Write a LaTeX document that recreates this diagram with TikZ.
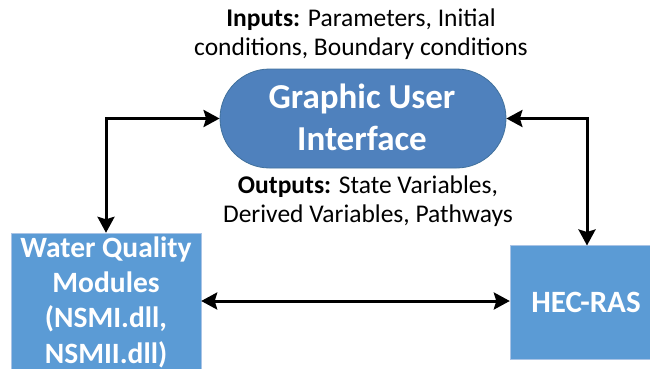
\documentclass[tikz,border=0pt]{standalone}
\usepackage{fontspec}
\setmainfont{Carlito}
\usetikzlibrary{arrows.meta,shapes.misc}
\definecolor{guiblue}{HTML}{4F81BD}
\definecolor{guiedge}{HTML}{41719C}
\definecolor{boxblue}{HTML}{5B9BD5}
\definecolor{boxedge}{HTML}{A9C4E6}
\tikzset{
  tip/.tip={Stealth[length=16pt,width=17pt,inset=2.5pt]},
  conn/.style={line width=3pt,tip-tip},
  lbl/.style={align=center,inner sep=0pt,font=\fontsize{25.5}{29}\selectfont}
}
\begin{document}
\begin{tikzpicture}[x=1pt,y=-1pt]
\useasboundingbox (0,0) rectangle (650,369);
% GUI
\node[rounded rectangle,minimum width=286pt,minimum height=99pt,fill=guiblue,draw=guiedge,line width=0.8pt,inner sep=0pt] (gui) at (363,118.5) {};
\node[text=white,font=\bfseries\fontsize{35}{42}\selectfont,align=center,inner sep=0pt,anchor=base] (guit) at (362,150) {Graphic User\\Interface};
% boxes
\path[fill=boxblue,draw=boxedge,line width=0.6pt] (11,233) rectangle (201,372);
\node[inner sep=0pt,minimum width=190pt,minimum height=139pt] (wq) at (106,302.5) {};
\node[text=white,font=\bfseries\fontsize{29.5}{35.3}\selectfont,align=center,inner sep=0pt,anchor=base] (wqt) at (106,363) {Water Quality\\Modules\\(NSMI.dll,\\NSMII.dll)};
\path[fill=boxblue,draw=boxedge,line width=0.6pt] (510,245.5) rectangle (655,359);
\node[inner sep=0pt,minimum width=145pt,minimum height=113.5pt] (hec) at (582.5,302.25) {};
\node[text=white,font=\bfseries\fontsize{31}{36}\selectfont,inner sep=0pt] (hect) at (586,302) {HEC-RAS};
% labels
\node[lbl,anchor=base] (inp) at (361,56) {\textbf{Inputs:} Parameters, Initial\\conditions, Boundary conditions};
\node[lbl,anchor=base] (outp) at (368,222) {\textbf{Outputs:} State Variables,\\Derived Variables, Pathways};
% connectors
\draw[conn] (gui.west) -| (wq.north);
\draw[conn] (gui.east) -| (587,245.5) coordinate (hectop);
\draw[conn] (wq.east |- 0,301) -- (hec.west |- 0,301);
\end{tikzpicture}
\end{document}
